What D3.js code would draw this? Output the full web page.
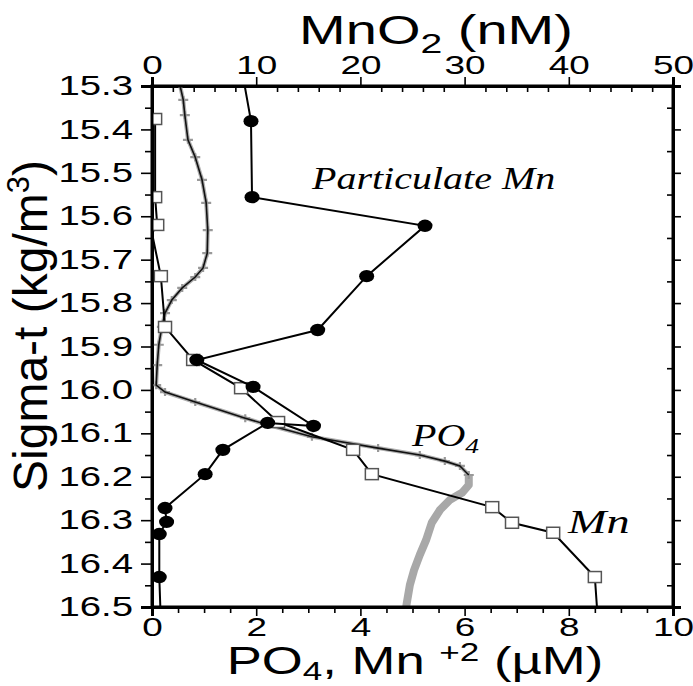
<!DOCTYPE html>
<html>
<head>
<meta charset="utf-8">
<script src="https://d3js.org/d3.v7.min.js"></script>
<style>
body { margin: 0; background: #fff; }
.axis path, .axis line { stroke: #000; fill: none; }
.axis text { font-family: "Liberation Sans", Arial, sans-serif; fill: #000; }
</style>
</head>
<body>
<script>
// sigma-t values (kg/m3) and concentrations
var partSigma = [15.300, 15.381, 15.556, 15.622, 15.738, 15.862, 15.931, 15.993, 16.083, 16.076, 16.138, 16.194, 16.272, 16.304, 16.332, 16.431, 16.500];
var partMnO2  = [8.9, 9.5, 9.6, 26.2, 20.6, 15.9, 4.3, 9.7, 15.5, 11.1, 6.8, 5.1, 1.25, 1.4, 0.7, 0.7, 0.8];   // nM

var mnSigma = [15.376, 15.556, 15.620, 15.639, 15.738, 15.855, 15.931, 15.996, 16.074, 16.138, 16.194, 16.270, 16.306, 16.329, 16.431, 16.500];
var mnUM    = [0.06, 0.06, 0.10, 0.0, 0.17, 0.25, 0.79, 1.71, 2.42, 3.86, 4.22, 6.53, 6.91, 7.70, 8.50, 8.54];  // µM

var po4Sigma = [15.300, 15.332, 15.367, 15.424, 15.464, 15.516, 15.569, 15.632, 15.685, 15.719, 15.740, 15.765, 15.793, 15.823, 15.855, 15.896, 15.943, 15.989,
                16.005, 16.028, 16.065, 16.081, 16.108, 16.134, 16.150, 16.164, 16.175, 16.196, 16.219, 16.237, 16.253, 16.276, 16.306, 16.346, 16.380, 16.415, 16.449, 16.491, 16.500];
var po4UM    = [0.54, 0.60, 0.63, 0.69, 0.83, 0.96, 1.04, 1.07, 1.06, 0.98, 0.83, 0.58, 0.38, 0.25, 0.19, 0.13, 0.10, 0.08,
                0.25, 0.83, 1.79, 2.23, 3.07, 4.34, 5.14, 5.62, 5.91, 6.08, 6.08, 5.95, 5.72, 5.53, 5.37, 5.26, 5.14, 5.03, 4.95, 4.89, 4.88];

var sigmaTicks = [15.3, 15.4, 15.5, 15.6, 15.7, 15.8, 15.9, 16.0, 16.1, 16.2, 16.3, 16.4, 16.5];
var umTicks = [0, 2, 4, 6, 8, 10];
var nmTicks = [0, 10, 20, 30, 40, 50];

var W = 693, H = 686;
var pL = 152, pR = 673, pT = 86, pB = 607;
var SX = 1.42; // text in the figure is stretched sideways

var x = d3.scaleLinear().domain([0, 10]).range([pL, pR]);
var xTop = d3.scaleLinear().domain([0, 50]).range([pL, pR]);
var y = d3.scaleLinear().domain([15.3, 16.5]).range([pT, pB]);

var svg = d3.select("body").append("svg")
    .attr("width", W)
    .attr("height", H)
    .style("background", "#fff");

svg.append("clipPath").attr("id", "plot")
  .append("rect").attr("x", pL).attr("y", pT).attr("width", pR - pL).attr("height", pB - pT);

function pairs(xs, ys) {
  return xs.map(function(v, i) { return {v: v, s: ys[i]}; });
}
var part = pairs(partMnO2, partSigma);
var mn = pairs(mnUM, mnSigma);
var po4 = pairs(po4UM, po4Sigma);

// minor ticks
function minor(sc, step, majors) {
  var d = sc.domain();
  return d3.range(d[0], d[1] + step / 2, step).filter(function(v) {
    return !majors.some(function(m) { return Math.abs(m - v) < 1e-6; });
  });
}

function stretchLabels(g, sx) {
  g.selectAll("text").each(function() {
    var t = d3.select(this);
    var xx = +t.attr("x") || 0;
    t.attr("x", xx / sx).attr("transform", "scale(" + sx + ",1)");
  });
}

// left axis
var gL = svg.append("g").attr("class", "axis").attr("transform", "translate(" + pL + ",0)")
  .call(d3.axisLeft(y).tickValues(sigmaTicks).tickFormat(d3.format(".1f")).tickSize(11).tickPadding(8));
gL.selectAll("text").style("font-size", "27px");
stretchLabels(gL, SX);
svg.append("g").attr("class", "axis").attr("transform", "translate(" + pL + ",0)")
  .call(d3.axisLeft(y).tickValues(minor(y, 0.05, sigmaTicks)).tickSize(7).tickFormat(""));

// right axis
svg.append("g").attr("class", "axis").attr("transform", "translate(" + pR + ",0)")
  .call(d3.axisRight(y).tickValues(sigmaTicks).tickSize(8).tickFormat(""));
svg.append("g").attr("class", "axis").attr("transform", "translate(" + pR + ",0)")
  .call(d3.axisRight(y).tickValues(minor(y, 0.05, sigmaTicks)).tickSize(-6).tickFormat(""));

// bottom axis
var gB = svg.append("g").attr("class", "axis").attr("transform", "translate(0," + pB + ")")
  .call(d3.axisBottom(x).tickValues(umTicks).tickSize(9).tickPadding(2));
gB.selectAll("text").style("font-size", "26px");
stretchLabels(gB, SX);
svg.append("g").attr("class", "axis").attr("transform", "translate(0," + pB + ")")
  .call(d3.axisBottom(x).tickValues(minor(x, 0.5, umTicks)).tickSize(6).tickFormat(""));

// top axis
var gT = svg.append("g").attr("class", "axis").attr("transform", "translate(0," + pT + ")")
  .call(d3.axisTop(xTop).tickValues(nmTicks).tickSize(9).tickPadding(3));
gT.selectAll("text").style("font-size", "26px");
stretchLabels(gT, SX);
svg.append("g").attr("class", "axis").attr("transform", "translate(0," + pT + ")")
  .call(d3.axisTop(xTop).tickValues(minor(xTop, 2, nmTicks)).tickSize(-6).tickFormat(""));

svg.selectAll(".axis path").attr("stroke-width", 3);
svg.selectAll(".axis line").attr("stroke-width", 1.6);

var plot = svg.append("g").attr("clip-path", "url(#plot)");

var lineUM = d3.line().x(function(d) { return x(d.v); }).y(function(d) { return y(d.s); });
var lineNM = d3.line().x(function(d) { return xTop(d.v); }).y(function(d) { return y(d.s); });

// PO4: black line with grey crosses above the maximum, broad grey band below
var po4Upper = po4.filter(function(d) { return d.s <= 16.2; });
var po4Lower = po4.filter(function(d) { return d.s >= 16.19; });
plot.append("path").datum(po4Lower).attr("d", lineUM)
  .attr("fill", "none").attr("stroke", "#a8a8a8").attr("stroke-width", 8).attr("stroke-linejoin", "round");
plot.append("path").datum(po4Upper).attr("d", lineUM)
  .attr("fill", "none").attr("stroke", "#b0b0b0").attr("stroke-width", 4);
plot.selectAll(".po4x").data(po4Upper).enter().append("path")
  .attr("class", "po4x")
  .attr("transform", function(d) { return "translate(" + x(d.v) + "," + y(d.s) + ")"; })
  .attr("d", "M-5,0H5M0,-4V4")
  .attr("stroke", "#999").attr("stroke-width", 2.2);
plot.append("path").datum(po4Upper).attr("d", lineUM)
  .attr("fill", "none").attr("stroke", "#111").attr("stroke-width", 1.6);

// Mn+2: line with open squares
plot.append("path").datum(mn).attr("d", lineUM)
  .attr("fill", "none").attr("stroke", "#000").attr("stroke-width", 2);
plot.selectAll(".mnsq").data(mn.filter(function(d) { return d.v > 0 && d.s < 16.5; })).enter().append("rect")
  .attr("class", "mnsq")
  .attr("x", function(d) { return x(d.v) - 6.5; })
  .attr("y", function(d) { return y(d.s) - 5.5; })
  .attr("width", 13).attr("height", 11)
  .attr("fill", "#fff").attr("stroke", "#555").attr("stroke-width", 1.5);

// particulate Mn: line with filled circles
plot.append("path").datum(part).attr("d", lineNM)
  .attr("fill", "none").attr("stroke", "#000").attr("stroke-width", 2);
plot.selectAll(".pt").data(part.filter(function(d) { return d.s > 15.3 && d.s < 16.5; })).enter().append("ellipse")
  .attr("class", "pt")
  .attr("cx", function(d) { return xTop(d.v); })
  .attr("cy", function(d) { return y(d.s); })
  .attr("rx", 7.5).attr("ry", 6.2)
  .attr("fill", "#000");

// frame
svg.append("rect").attr("x", pL).attr("y", pT).attr("width", pR - pL).attr("height", pB - pT)
  .attr("fill", "none").attr("stroke", "#000").attr("stroke-width", 3);

// titles
function stretched(px, py, sx, anchor) {
  return svg.append("g").attr("transform", "translate(" + px + "," + py + ") scale(" + sx + ",1)")
    .append("text").attr("text-anchor", anchor);
}

var t1 = stretched(436, 44, 1.4, "middle")
  .style("font-family", "Liberation Sans, Arial, sans-serif").style("font-size", "40px");
t1.append("tspan").text("MnO");
t1.append("tspan").attr("dy", 9).style("font-size", "28px").text("2");
t1.append("tspan").attr("dy", -9).text("  (nM)");

var t2 = stretched(415, 674, 1.35, "middle")
  .style("font-family", "Liberation Sans, Arial, sans-serif").style("font-size", "39px");
t2.append("tspan").text("PO");
t2.append("tspan").attr("dy", 6).style("font-size", "26px").text("4");
t2.append("tspan").attr("dy", -6).text(", Mn ");
t2.append("tspan").attr("dy", -13).style("font-size", "26px").text("+2");
t2.append("tspan").attr("dy", 13).text(" (\u00b5M)");

var t3 = svg.append("g").attr("transform", "translate(47,326) rotate(-90)")
  .append("text").attr("text-anchor", "middle")
  .style("font-family", "Liberation Sans, Arial, sans-serif").style("font-size", "48px");
t3.append("tspan").text("Sigma-t (kg/m");
t3.append("tspan").attr("dy", -18).style("font-size", "31px").text("3");
t3.append("tspan").attr("dy", 18).text(")");

// series labels
var serif = "Liberation Serif, Times New Roman, serif";
stretched(312, 189, 1.25, "start").style("font-family", serif).style("font-style", "italic")
  .style("font-size", "32px").text("Particulate Mn");
var t4 = stretched(412, 446, 1.25, "start").style("font-family", serif).style("font-style", "italic")
  .style("font-size", "32px");
t4.append("tspan").text("PO");
t4.append("tspan").attr("dy", 7).style("font-size", "22px").text("4");
stretched(568, 533, 1.4, "start").style("font-family", serif).style("font-style", "italic")
  .style("font-size", "33px").text("Mn");
</script>
</body>
</html>
